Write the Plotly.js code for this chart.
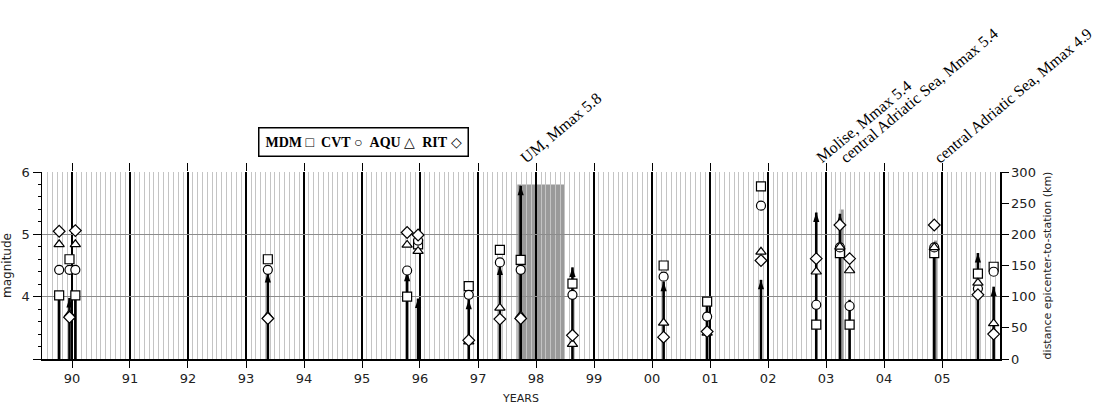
<!DOCTYPE html>
<html>
<head>
<meta charset="utf-8">
<script src="https://cdn.plot.ly/plotly-3.0.1.min.js"></script>
<style>html,body{margin:0;padding:0;background:#fff;}#chart{width:1100px;height:411px;}</style>
</head>
<body>
<div id="chart"></div>
<script>
// ---- data ----
const eventDates = ['1989-10-12','1989-12-16','1990-01-22','1993-05-18','1995-10-12','1995-12-20','1996-11-03','1997-05-18','1997-09-26','1998-08-18','2000-03-14','2000-12-13','2001-11-17','2002-10-31','2003-03-29','2003-05-29','2004-11-12','2005-08-14','2005-11-21'];
const magnitudes = [4.03,3.98,4.03,4.38,4.40,3.97,3.95,4.50,5.78,4.47,4.24,3.92,4.27,5.35,5.33,3.95,4.80,4.70,4.16];
const headVisible = [false,true,false,true,true,true,true,true,true,true,true,false,true,true,true,true,false,true,true];
const distMDM = [102,160,102,160,100,184,117,175,159,121,150,92,277,55,170,55,170,137,148];
const distCVT = [143,143,143,143,142,190,103,155,143,103,132,68,246,87,179,85,179,113,140];
const distAQU = [184,72,184,69,183,173,28,82,70,24,58,42,172,140,180,142,179,122,57];
const distRIT = [205,67,206,65,203,199,30,64,65,38,35,44,158,161,215,161,215,103,40];
const stations = ['MDM','CVT','AQU','RIT'];
const legendGlyphs = ['□','○','△','◇'];
const labelDates = ['1997-09-26','2002-10-31','2003-03-29','2004-11-12'];
const labelTexts = ['UM, Mmax 5.8','Molise, Mmax 5.4','central Adriatic Sea, Mmax 5.4','central Adriatic Sea, Mmax 4.9'];
const shadeStart = ['1997-09-05','2003-03-28','2004-11-10'];
const shadeEnd = ['1998-07-01','2003-04-22','2004-12-01'];
const shadeMag = [5.8,5.4,4.9];

// ---- build ----
const stemX = [], stemY = [];
eventDates.forEach((d,i)=>{ stemX.push(d,d,null); stemY.push(3,magnitudes[i],null); });
const headX = eventDates.filter((d,i)=>headVisible[i]);
const headY = magnitudes.filter((m,i)=>headVisible[i]);

const stationData = [distMDM, distCVT, distAQU, distRIT];
const symbols = ['square','circle','triangle-up','diamond'];
const sizes = [9,9,9,9];

const traces = [
  {x: stemX, y: stemY, mode:'lines', line:{color:'#000', width:2.6}, hoverinfo:'skip', showlegend:false},
  {x: headX, y: headY, mode:'markers', marker:{symbol:'arrow', size:10, color:'#000', line:{width:0}}, showlegend:false},
  {x: [], y: [], xaxis:'x2', yaxis:'y', showlegend:false}
];
stationData.forEach((arr,k)=>{
  traces.push({x: eventDates, y: arr, yaxis:'y2', name: stations[k], mode:'markers',
    marker:{symbol:symbols[k], size:sizes[k], color:'#fff', line:{color:'#000', width:1.2}}, showlegend:false});
});

const range = ['1989-06-26','2005-12-31'];
const tickFont = {family:'DejaVu Sans, Verdana, sans-serif', size:13, color:'#222'};

const shapes = shadeStart.map((s,i)=>({type:'rect', xref:'x', yref:'y', x0:s, x1:shadeEnd[i], y0:3, y1:shadeMag[i], fillcolor:'#9a9a9a', line:{width:0}, layer:'below'}));

const annotations = labelDates.map((d,i)=>({
  x: d, xref:'x', y:1, yref:'paper', text: labelTexts[i], showarrow:false, textangle:-40,
  xanchor:'left', yanchor:'bottom', xshift:-6, yshift:3,
  font:{family:'Liberation Serif, Times New Roman, serif', size:16, color:'#000'}
}));
const legendText = stations.map((s,k)=>'<b>'+s+'</b>&nbsp;<span style="font-size:14px">'+legendGlyphs[k]+'</span>').join('&nbsp;&nbsp;');
annotations.push({
  x:0.3355, xref:'paper', y:1.16, yref:'paper', showarrow:false, xanchor:'center', yanchor:'middle',
  text: legendText,
  font:{family:'Liberation Serif, Times New Roman, serif', size:14, color:'#000'},
  bordercolor:'#000', borderwidth:1.5, borderpad:6, bgcolor:'#fff'
});

const layout = {
  width:1100, height:411,
  margin:{l:42, r:100, t:172, b:52, pad:0},
  paper_bgcolor:'#fff', plot_bgcolor:'#fff',
  showlegend:false,
  xaxis:{type:'date', range:range, tick0:'1990-01-01', dtick:'M12', tickformat:'%y',
    showgrid:true, gridcolor:'#000', gridwidth:1.4,
    minor:{dtick:'M1', tick0:'1990-01-01', showgrid:true, gridcolor:'#c4c4c4', gridwidth:1},
    ticks:'outside', ticklen:7, tickwidth:1, tickcolor:'#000',
    showline:true, linecolor:'#000', linewidth:1.5, zeroline:false,
    tickfont:tickFont,
    title:{text:'YEARS', font:{family:'DejaVu Sans, sans-serif', size:11, color:'#222'}, standoff:9}},
  xaxis2:{type:'date', range:range, overlaying:'x', side:'top', anchor:'y', tick0:'1990-01-01', dtick:'M12',
    showticklabels:false, ticks:'outside', ticklen:8, tickcolor:'#000', showgrid:false, showline:false, zeroline:false},
  yaxis:{range:[3,6], tickvals:[3,4,5,6], ticktext:['','4','5','6'], ticks:'outside', ticklen:8, tickcolor:'#000',
    minor:{tickmode:'linear', tick0:3, dtick:0.2, ticks:'outside', ticklen:3, tickcolor:'#000', showgrid:false},
    showgrid:true, gridcolor:'#8c8c8c', gridwidth:1, showline:true, linecolor:'#000', linewidth:1.5, zeroline:false,
    tickfont:tickFont,
    title:{text:'magnitude', font:{family:'DejaVu Sans, sans-serif', size:12, color:'#222'}, standoff:8}},
  yaxis2:{range:[0,300], overlaying:'y', side:'right', anchor:'x', tick0:0, dtick:50, ticks:'outside', ticklen:7, tickcolor:'#000',
    showgrid:false, showline:true, linecolor:'#000', linewidth:1.5, zeroline:false,
    tickfont:tickFont,
    title:{text:'distance epicenter-to-station (km)', font:{family:'DejaVu Sans, sans-serif', size:11, color:'#222'}, standoff:8}},
  shapes:shapes,
  annotations:annotations
};

Plotly.newPlot('chart', traces, layout, {displayModeBar:false, staticPlot:true});
</script>
</body>
</html>
